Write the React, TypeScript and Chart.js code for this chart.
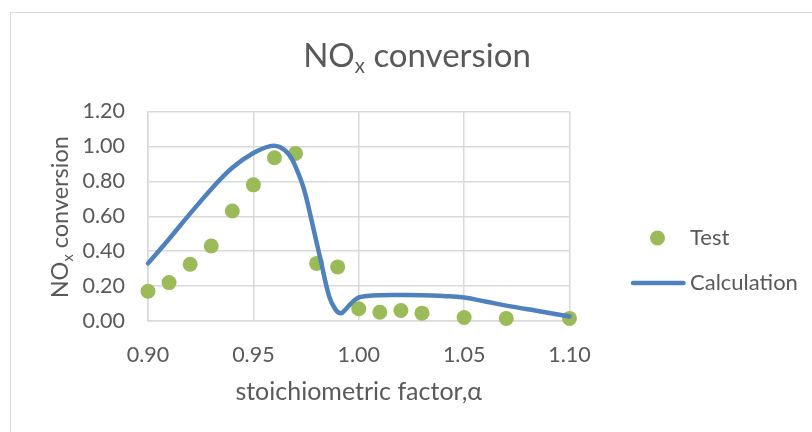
import React, { useEffect, useRef } from "react";
import { Chart, registerables } from "chart.js";

Chart.register(...registerables);

// ---- text ----
const titleParts = ["NO", "x", " conversion"];
const yTitleParts = ["NO", "x", " conversion"];
const xAxisTitle = "stoichiometric factor,α";
const seriesNames = ["Test", "Calculation"];

// ---- axes ----
const xMin = 0.9;
const xMax = 1.1;
const xStep = 0.05;
const yMin = 0;
const yMax = 1.2;
const yStep = 0.2;

// ---- data ----
const testX = [0.90, 0.91, 0.92, 0.93, 0.94, 0.95, 0.96, 0.97, 0.98, 0.99, 1.00, 1.01, 1.02, 1.03, 1.05, 1.07, 1.10];
const testY = [0.17, 0.22, 0.325, 0.43, 0.63, 0.78, 0.935, 0.96, 0.33, 0.31, 0.07, 0.05, 0.06, 0.045, 0.02, 0.015, 0.015];

const calcX = [0.90, 0.91, 0.92, 0.93, 0.94, 0.95, 0.958, 0.9625, 0.967, 0.9705, 0.974, 0.978, 0.982, 0.986, 0.989, 0.9915, 0.994, 0.999, 1.004, 1.02, 1.03, 1.04, 1.05, 1.06, 1.07, 1.085, 1.10];
const calcY = [0.33, 0.47, 0.615, 0.755, 0.878, 0.962, 1.002, 0.997, 0.952, 0.87, 0.755, 0.555, 0.345, 0.14, 0.065, 0.044, 0.07, 0.128, 0.143, 0.149, 0.148, 0.143, 0.134, 0.112, 0.088, 0.057, 0.026];

// ---- styles ----
const FONT = "Lato, 'Open Sans', sans-serif";
const TEXT = "#595959";
const GRID = "#d9d9d9";
const GREEN = "#9BBB59";
const BLUE = "#4F81BD";

function drawSubText(ctx: CanvasRenderingContext2D, parts: string[], size: number, cx: number, cy: number, rot: number) {
  const subSize = size * 0.62;
  ctx.save();
  ctx.translate(cx, cy);
  ctx.rotate(rot);
  ctx.fillStyle = TEXT;
  ctx.textBaseline = "alphabetic";
  ctx.textAlign = "left";
  ctx.font = `${size}px ${FONT}`;
  const w1 = ctx.measureText(parts[0]).width;
  const w3 = ctx.measureText(parts[2]).width;
  ctx.font = `${subSize}px ${FONT}`;
  const w2 = ctx.measureText(parts[1]).width;
  const total = w1 + w2 + w3;
  let x = -total / 2;
  const base = size * 0.36;
  ctx.font = `${size}px ${FONT}`;
  ctx.fillText(parts[0], x, base);
  x += w1;
  ctx.font = `${subSize}px ${FONT}`;
  ctx.fillText(parts[1], x, base + size * 0.2);
  x += w2;
  ctx.font = `${size}px ${FONT}`;
  ctx.fillText(parts[2], x, base);
  ctx.restore();
}

const decorPlugin = {
  id: "decor",
  afterDraw(chart: any) {
    const ctx: CanvasRenderingContext2D = chart.ctx;
    const ca = chart.chartArea;
    // chart title
    drawSubText(ctx, titleParts, 33, chart.width / 2 + 11, 55, 0);
    // y axis title
    drawSubText(ctx, yTitleParts, 23.5, 60, (ca.top + ca.bottom) / 2 + 1, -Math.PI / 2);
    // legend
    const lx = ca.right;
    const y1 = ca.top + 126.5;
    const y2 = y1 + 45;
    ctx.save();
    ctx.fillStyle = GREEN;
    ctx.beginPath();
    ctx.arc(lx + 88, y1, 7.5, 0, Math.PI * 2);
    ctx.fill();
    ctx.strokeStyle = BLUE;
    ctx.lineWidth = 4.5;
    ctx.lineCap = "round";
    ctx.beginPath();
    ctx.moveTo(lx + 63.5, y2);
    ctx.lineTo(lx + 114, y2);
    ctx.stroke();
    ctx.fillStyle = TEXT;
    ctx.font = `22px ${FONT}`;
    ctx.textBaseline = "middle";
    ctx.textAlign = "left";
    ctx.fillText(seriesNames[0], lx + 120.5, y1);
    ctx.fillText(seriesNames[1], lx + 120.5, y2);
    ctx.restore();
  },
};

export default function App() {
  const ref = useRef<HTMLCanvasElement | null>(null);

  useEffect(() => {
    if (!ref.current) return;
    const chart = new Chart(ref.current, {
      type: "scatter",
      data: {
        datasets: [
          {
            label: seriesNames[1],
            data: calcX.map((x, i) => ({ x, y: calcY[i] })),
            showLine: true,
            borderColor: BLUE,
            backgroundColor: BLUE,
            borderWidth: 4.5,
            borderCapStyle: "round",
            borderJoinStyle: "round",
            pointRadius: 0,
            tension: 0.4,
            clip: false,
            order: 0,
          } as any,
          {
            label: seriesNames[0],
            data: testX.map((x, i) => ({ x, y: testY[i] })),
            showLine: false,
            backgroundColor: GREEN,
            borderWidth: 0,
            pointRadius: 7.5,
            clip: false,
            order: 1,
          } as any,
        ],
      },
      options: {
        animation: false,
        responsive: false,
        layout: { padding: { left: 0, right: 242.5, top: 111.5, bottom: 0 } },
        plugins: {
          legend: { display: false },
          title: { display: false },
          tooltip: { enabled: false },
        },
        scales: {
          x: {
            type: "linear",
            min: xMin,
            max: xMax,
            ticks: {
              stepSize: xStep,
              color: TEXT,
              font: { family: FONT, size: 21.5 },
              padding: 21,
              callback: (v: any) => Number(v).toFixed(2),
            },
            grid: { color: GRID, lineWidth: 1.5, drawTicks: false },
            border: { color: GRID, width: 1.5 },
            title: {
              display: true,
              text: xAxisTitle,
              color: TEXT,
              font: { family: FONT, size: 25 },
              padding: { top: 0, bottom: 25 },
            },
            afterFit: (s: any) => {
              s.height = 111;
            },
          },
          y: {
            type: "linear",
            min: yMin,
            max: yMax,
            ticks: {
              stepSize: yStep,
              color: TEXT,
              font: { family: FONT, size: 21.5 },
              padding: 23,
              callback: (v: any) => Number(v).toFixed(2),
            },
            grid: { color: GRID, lineWidth: 1.5, drawTicks: false },
            border: { color: GRID, width: 1.5 },
            afterFit: (s: any) => {
              s.width = 148;
            },
          },
        },
      } as any,
      plugins: [decorPlugin],
    });
    return () => chart.destroy();
  }, []);

  return (
    <div style={{ position: "fixed", left: 0, top: 0, width: 812, height: 432, overflow: "hidden", background: "#fff" }}>
      <div
        style={{
          position: "absolute",
          left: 10,
          top: 12,
          width: 900,
          height: 600,
          border: "1px solid #d9d9d9",
          boxSizing: "border-box",
        }}
      />
      <canvas ref={ref} width={812} height={432} style={{ position: "absolute", left: 0, top: 0, width: 812, height: 432 }} />
    </div>
  );
}
